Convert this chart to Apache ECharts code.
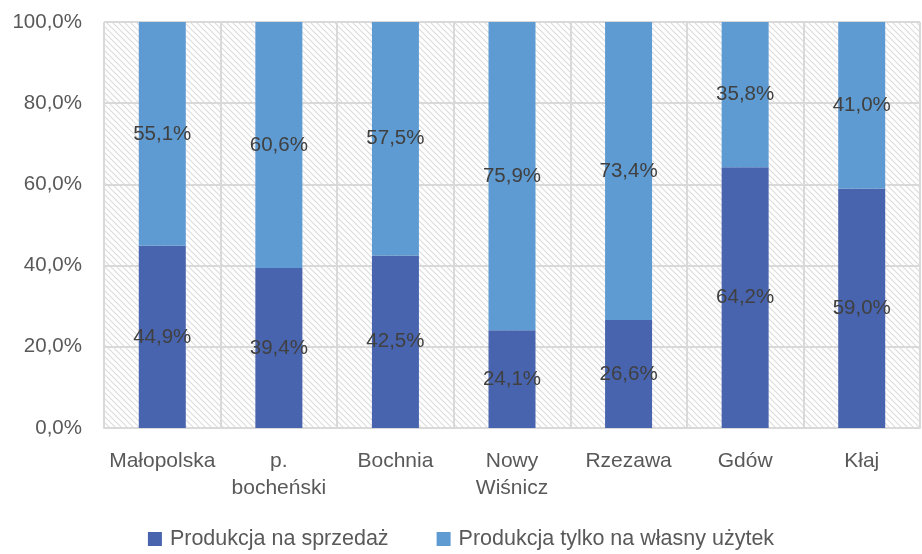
<!DOCTYPE html>
<html>
<head>
<meta charset="utf-8">
<script src="https://cdn.jsdelivr.net/npm/echarts@6/dist/echarts.min.js"></script>
<style>
  html, body { margin: 0; padding: 0; background: #fff; }
  #chart { width: 922px; height: 554px; }
</style>
</head>
<body>
<div id="chart"></div>
<script>
// dane
const categories = ['Małopolska', 'p.\nbocheński', 'Bochnia', 'Nowy\nWiśnicz', 'Rzezawa', 'Gdów', 'Kłaj'];
const sprzedaz = [44.9, 39.4, 42.5, 24.1, 26.6, 64.2, 59.0];
const wlasnyUzytek = [55.1, 60.6, 57.5, 75.9, 73.4, 35.8, 41.0];
const seriesNames = ['Produkcja na sprzedaż', 'Produkcja tylko na własny użytek'];

const font = 'Liberation Sans, Arial, sans-serif';

// kreskowane tło obszaru wykresu
function hatch() {
  const c = document.createElement('canvas');
  c.width = 6; c.height = 6;
  const ctx = c.getContext('2d');
  ctx.fillStyle = '#ffffff';
  ctx.fillRect(0, 0, 6, 6);
  ctx.strokeStyle = '#dcdcdc';
  ctx.lineWidth = 1.1;
  ctx.beginPath();
  ctx.moveTo(-1, -1); ctx.lineTo(7, 7);
  ctx.moveTo(-4, 2); ctx.lineTo(4, 10);
  ctx.moveTo(2, -4); ctx.lineTo(10, 4);
  ctx.stroke();
  return c;
}

const chart = echarts.init(document.getElementById('chart'));

const label = {
  show: true,
  position: 'inside',
  color: '#404040',
  fontSize: 20.5,
  fontFamily: font,
  formatter: p => p.value.toFixed(1).replace('.', ',') + '%'
};

const option = {
  animation: false,
  grid: {
    left: 104,
    right: 2,
    top: 22,
    bottom: 126,
    show: true,
    borderWidth: 0,
    backgroundColor: { image: hatch(), repeat: 'repeat' }
  },
  legend: {
    top: 523,
    left: 'center',
    itemWidth: 14,
    itemHeight: 14,
    itemGap: 48,
    icon: 'rect',
    textStyle: { color: '#595959', fontSize: 21.5, fontFamily: font, padding: [0, 0, 0, 3] },
    data: seriesNames
  },
  xAxis: {
    type: 'category',
    data: categories,
    axisLine: { lineStyle: { color: '#d9d9d9', width: 2 } },
    axisTick: { show: false },
    splitLine: { show: true, lineStyle: { color: '#d9d9d9', width: 2 } },
    axisLabel: {
      color: '#595959',
      fontSize: 21,
      fontFamily: font,
      lineHeight: 27,
      margin: 20,
      interval: 0
    }
  },
  yAxis: {
    type: 'value',
    min: 0,
    max: 100,
    interval: 20,
    axisLine: { show: false },
    axisTick: { show: false },
    splitLine: { lineStyle: { color: '#d9d9d9', width: 2 } },
    axisLabel: {
      color: '#595959',
      fontSize: 20.5,
      fontFamily: font,
      margin: 22,
      formatter: v => v.toFixed(1).replace('.', ',') + '%'
    }
  },
  series: [
    {
      name: seriesNames[0],
      type: 'bar',
      stack: 'total',
      barWidth: 47,
      itemStyle: { color: '#4864ae' },
      label: label,
      data: sprzedaz
    },
    {
      name: seriesNames[1],
      type: 'bar',
      stack: 'total',
      barWidth: 47,
      itemStyle: { color: '#5e9bd2' },
      label: label,
      data: wlasnyUzytek
    }
  ]
};

chart.setOption(option);
</script>
</body>
</html>
